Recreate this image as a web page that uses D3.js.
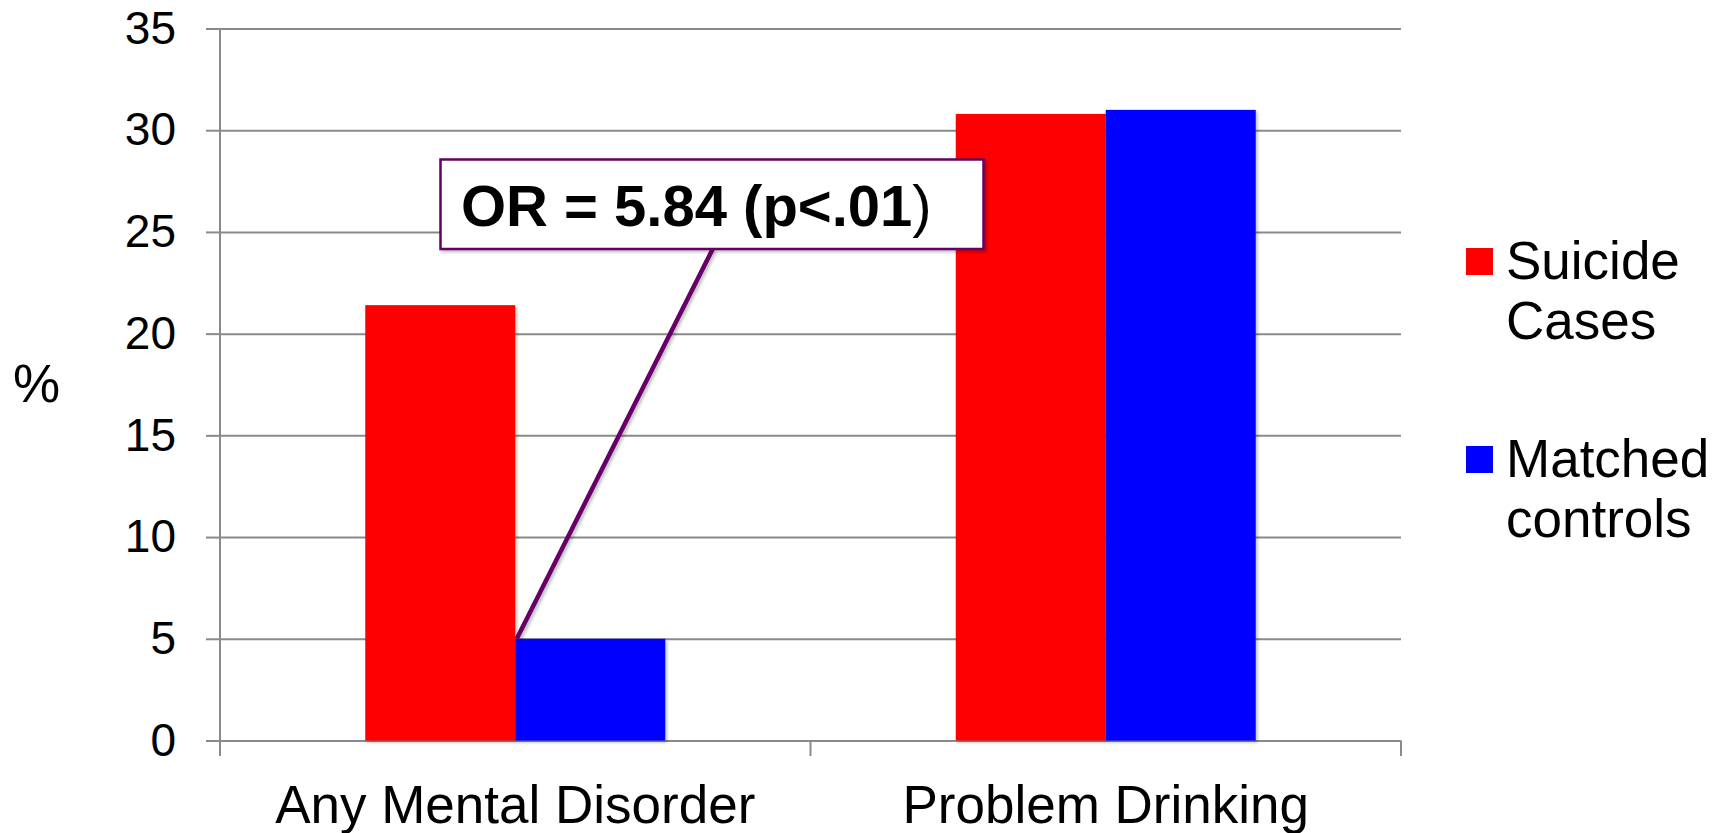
<!DOCTYPE html>
<html>
<head>
<meta charset="utf-8">
<script src="https://cdn.jsdelivr.net/npm/d3@7"></script>
<style>
  html, body { margin: 0; padding: 0; background: #fff; }
  svg { display: block; font-family: "Liberation Sans", Arial, Helvetica, sans-serif; }
</style>
</head>
<body>
<svg id="chart" width="1727" height="833"></svg>
<script>
// Percent of each group with the given condition
const categories = ["Any Mental Disorder", "Problem Drinking"];
const seriesNames = ["Suicide Cases", "Matched controls"];
const suicideCases = [21.4, 30.8];
const matchedControls = [5.0, 31.0];
const seriesColors = ["#ff0000", "#0000ff"];
const yTicks = [0, 5, 10, 15, 20, 25, 30, 35];
const legendLines = [["Suicide", "Cases"], ["Matched", "controls"]];
const annotationText = "OR = 5.84 (p<.01";

(function () {
  const svg = d3.select("#chart");
  const plotLeft = 220, plotRight = 1401, plotTop = 28.5, plotBottom = 740.5;
  const gridColor = "#8a8a8a";

  const x0 = d3.scaleBand().domain(categories).range([plotLeft, plotRight])
    .paddingInner(0.492).paddingOuter(0.246);
  const x1 = d3.scaleBand().domain(seriesNames).range([0, x0.bandwidth()]);
  const y = d3.scaleLinear().domain([0, 35]).range([plotBottom, plotTop]);

  // soft shadow under the bars
  const defs = svg.append("defs");
  const f = defs.append("filter").attr("id", "shadow")
    .attr("x", "-5%").attr("y", "-5%").attr("width", "115%").attr("height", "115%");
  f.append("feDropShadow").attr("dx", 2).attr("dy", 2).attr("stdDeviation", 1.5)
    .attr("flood-color", "#000").attr("flood-opacity", 0.25);

  // horizontal gridlines
  const grid = svg.append("g").attr("transform", `translate(${plotLeft},0)`)
    .call(d3.axisLeft(y).tickValues(yTicks).tickSize(-(plotRight - plotLeft)).tickFormat(""));
  grid.select(".domain").remove();
  grid.selectAll("line").attr("stroke", gridColor).attr("stroke-width", 2);

  // y axis with outside ticks and labels
  const yAxis = svg.append("g").attr("transform", `translate(${plotLeft},0)`)
    .call(d3.axisLeft(y).tickValues(yTicks).tickSize(14).tickSizeOuter(0).tickPadding(30));
  yAxis.select(".domain").remove();
  yAxis.selectAll("line").attr("stroke", gridColor).attr("stroke-width", 2);
  yAxis.selectAll("text").attr("font-size", 46).attr("fill", "#000")
    .attr("font-family", "Liberation Sans, Arial, sans-serif");

  // vertical axis line, extended below zero
  svg.append("line").attr("x1", plotLeft).attr("x2", plotLeft)
    .attr("y1", y(35)).attr("y2", plotBottom + 15.5)
    .attr("stroke", gridColor).attr("stroke-width", 2);

  // category boundary ticks below the baseline
  const boundaries = categories.slice(1)
    .map(c => x0(c) - x0.step() * x0.paddingInner() / 2).concat([plotRight]);
  svg.append("g").selectAll("line").data(boundaries).join("line")
    .attr("x1", d => d).attr("x2", d => d)
    .attr("y1", plotBottom).attr("y2", plotBottom + 15.5)
    .attr("stroke", gridColor).attr("stroke-width", 2);

  // bars
  const rows = categories.map((c, i) => ({ cat: c, vals: [suicideCases[i], matchedControls[i]] }));
  svg.append("g").selectAll("g").data(rows).join("g")
    .attr("transform", d => `translate(${x0(d.cat)},0)`)
    .selectAll("rect").data(d => d.vals.map((v, j) => ({ name: seriesNames[j], v, j })))
    .join("rect")
    .attr("x", d => x1(d.name))
    .attr("y", d => y(d.v))
    .attr("width", x1.bandwidth())
    .attr("height", d => y(0) - y(d.v))
    .attr("fill", d => seriesColors[d.j])
    .attr("filter", "url(#shadow)");

  // category labels
  svg.append("g").selectAll("text").data(categories).join("text")
    .attr("x", d => x0(d) + x0.bandwidth() / 2)
    .attr("y", 823)
    .attr("text-anchor", "middle")
    .attr("font-size", 53)
    .attr("fill", "#000")
    .text(d => d);

  // y axis title
  svg.append("text").attr("x", 13).attr("y", 402)
    .attr("font-size", 53).attr("fill", "#000").text("%");

  // legend
  const legendTop = [248, 446];
  const legend = svg.append("g").selectAll("g").data(seriesNames).join("g");
  legend.append("rect")
    .attr("x", 1466).attr("y", (d, i) => legendTop[i])
    .attr("width", 27).attr("height", 27)
    .attr("fill", (d, i) => seriesColors[i]);
  legend.append("text")
    .attr("x", 1506).attr("y", (d, i) => legendTop[i] + 31)
    .attr("font-size", 53).attr("fill", "#000")
    .selectAll("tspan").data((d, i) => legendLines[i]).join("tspan")
    .attr("x", 1506).attr("dy", (d, k) => k === 0 ? 0 : 60)
    .text(d => d);

  // odds-ratio callout with leader line to the control bar
  const target = { x: x0(categories[0]) + x1(seriesNames[1]), y: y(matchedControls[0]) };
  svg.append("line")
    .attr("x1", 712.7).attr("y1", 249)
    .attr("x2", target.x + 1.5).attr("y2", target.y)
    .attr("stroke", "#660066").attr("stroke-width", 4.5)
    .attr("filter", "url(#shadow)");
  svg.append("rect")
    .attr("x", 440.5).attr("y", 159.5).attr("width", 543).attr("height", 89.5)
    .attr("fill", "#fff").attr("stroke", "#660066").attr("stroke-width", 2.5)
    .attr("filter", "url(#shadow)");
  const note = svg.append("text").attr("x", 461).attr("y", 226)
    .attr("font-size", 58).attr("fill", "#000");
  note.append("tspan").attr("font-weight", "bold").text(annotationText);
  note.append("tspan").attr("font-weight", "normal").text(")");
})();
</script>
</body>
</html>
